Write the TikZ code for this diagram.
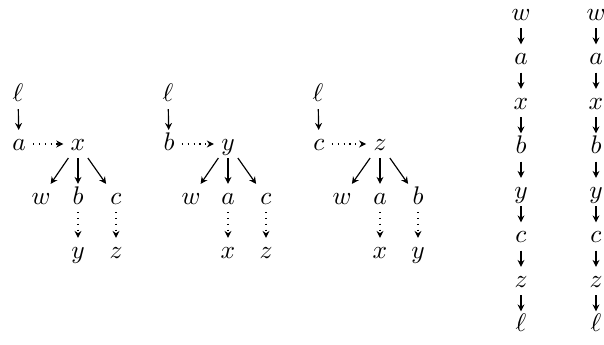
\documentclass[tikz,border=0pt]{standalone}
\usetikzlibrary{arrows.meta}
\begin{document}
\begin{tikzpicture}[x=0.43pt,y=-0.43pt,
  lbl/.style={inner xsep=3pt, inner ysep=0.9pt, font=\fontsize{10.5}{12.5}\selectfont, text height=7.7pt, text depth=2.2pt},
  ar/.style={-{Stealth[length=3pt,width=3pt]}, line width=0.5pt},
  dar/.style={ar, dotted}]
\useasboundingbox (0,0) rectangle (604,345);
% tree 1
\node[lbl] (l1) at (18,95) {$\ell$};
\node[lbl] (a1) at (19,144) {$a$};
\node[lbl] (x1) at (78,144) {$x$};
\node[lbl] (w1) at (41,198) {$w$};
\node[lbl] (b1) at (78,198) {$b$};
\node[lbl] (c1) at (116,198) {$c$};
\node[lbl] (y1) at (78,252) {$y$};
\node[lbl] (z1) at (116,252) {$z$};
\draw[ar] (l1) -- (a1);
\draw[dar] (a1) -- (x1);
\draw[ar] (x1) -- (w1);
\draw[ar] (x1) -- (b1);
\draw[ar] (x1) -- (c1);
\draw[dar] (b1) -- (y1);
\draw[dar] (c1) -- (z1);
% tree 2
\node[lbl] (l2) at (168,95) {$\ell$};
\node[lbl] (b2) at (169,144) {$b$};
\node[lbl] (y2) at (228,144) {$y$};
\node[lbl] (w2) at (191,198) {$w$};
\node[lbl] (a2) at (228,198) {$a$};
\node[lbl] (c2) at (266,198) {$c$};
\node[lbl] (x2) at (228,252) {$x$};
\node[lbl] (z2) at (266,252) {$z$};
\draw[ar] (l2) -- (b2);
\draw[dar] (b2) -- (y2);
\draw[ar] (y2) -- (w2);
\draw[ar] (y2) -- (a2);
\draw[ar] (y2) -- (c2);
\draw[dar] (a2) -- (x2);
\draw[dar] (c2) -- (z2);
% tree 3
\node[lbl] (l3) at (318,95) {$\ell$};
\node[lbl] (c3) at (319,144) {$c$};
\node[lbl] (z3) at (380,144) {$z$};
\node[lbl] (w3) at (342,198) {$w$};
\node[lbl] (a3) at (380,198) {$a$};
\node[lbl] (b3) at (418,198) {$b$};
\node[lbl] (x3) at (380,252) {$x$};
\node[lbl] (y3) at (418,252) {$y$};
\draw[ar] (l3) -- (c3);
\draw[dar] (c3) -- (z3);
\draw[ar] (z3) -- (w3);
\draw[ar] (z3) -- (a3);
\draw[ar] (z3) -- (b3);
\draw[dar] (a3) -- (x3);
\draw[dar] (b3) -- (y3);
% chains
\foreach \col/\xx in {p/521, q/596} {
  \node[lbl] (\col0) at (\xx,14) {$w$};
  \node[lbl] (\col1) at (\xx,58.5) {$a$};
  \node[lbl] (\col2) at (\xx,103) {$x$};
  \node[lbl] (\col3) at (\xx,147.5) {$b$};
  \node[lbl] (\col4) at (\xx,192) {$y$};
  \node[lbl] (\col5) at (\xx,236.5) {$c$};
  \node[lbl] (\col6) at (\xx,281) {$z$};
  \node[lbl] (\col7) at (\xx,325.5) {$\ell$};
  \foreach \i [evaluate=\i as \j using int(\i+1)] in {0,...,6}
    \draw[ar] (\col\i) -- (\col\j);
}
\end{tikzpicture}
\end{document}
